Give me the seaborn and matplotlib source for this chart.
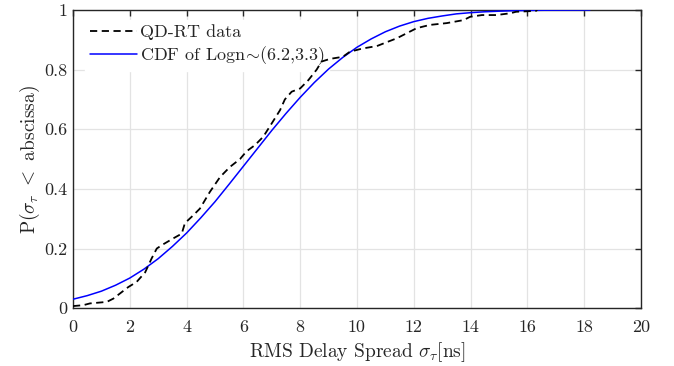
import matplotlib
matplotlib.use("Agg")
import matplotlib.pyplot as plt
import seaborn as sns
import pandas as pd

emp_x = [0.0, 0.36, 0.6, 1.19, 1.42, 1.65, 1.95, 2.24, 2.54, 2.77, 2.95, 3.12,
         3.53, 3.83, 3.94, 4.24, 4.47, 4.82, 5.18, 5.53, 5.88, 6.11, 6.41, 6.70,
         7.0, 7.29, 7.46, 7.7, 8.0, 8.29, 8.58, 8.75, 9.05, 9.5, 9.75, 10.2,
         10.7, 11.1, 11.4, 11.75, 12.1, 12.57, 13.16, 13.75, 13.98, 14.4, 14.9,
         15.4, 15.6, 16.3, 16.35]
emp_y = [0.007, 0.01, 0.016, 0.021, 0.032, 0.049, 0.071, 0.088, 0.12, 0.167,
         0.2, 0.211, 0.234, 0.25, 0.285, 0.312, 0.334, 0.39, 0.44, 0.474, 0.50,
         0.526, 0.547, 0.575, 0.62, 0.664, 0.70, 0.726, 0.737, 0.765, 0.80,
         0.827, 0.836, 0.843, 0.86, 0.871, 0.879, 0.894, 0.905, 0.922, 0.939,
         0.95, 0.956, 0.966, 0.977, 0.983, 0.983, 0.989, 0.994, 0.997, 1.0]

# Fitted CDF curve
fit_x = [0, 0.5, 1, 1.5, 2, 2.5, 3, 3.5, 4, 4.5, 5, 5.5, 6, 6.5, 7, 7.5, 8,
         8.5, 9, 9.5, 10, 10.5, 11, 11.5, 12, 12.5, 13, 13.5, 14, 14.5, 15,
         15.5, 16, 16.5, 17, 17.5, 18, 18.2]
fit_y = [0.030, 0.042, 0.057, 0.077, 0.101, 0.131, 0.166, 0.207, 0.252, 0.303,
         0.357, 0.416, 0.476, 0.536, 0.596, 0.653, 0.707, 0.757, 0.802, 0.841,
         0.875, 0.903, 0.927, 0.946, 0.961, 0.972, 0.980, 0.987, 0.991, 0.994,
         0.996, 0.9976, 0.9985, 0.9991, 0.9995, 0.9997, 0.9999, 1.0]

x_ticks = [0, 2, 4, 6, 8, 10, 12, 14, 16, 18, 20]
y_ticks = [0, 0.2, 0.4, 0.6, 0.8, 1]
y_tick_labels = ["0", "0.2", "0.4", "0.6", "0.8", "1"]

sns.set_style("white")
plt.rcParams["font.family"] = ["cmr10", "DejaVu Serif"]
plt.rcParams["mathtext.fontset"] = "cm"
plt.rcParams["axes.formatter.use_mathtext"] = True
plt.rcParams["axes.unicode_minus"] = False

fig = plt.figure(figsize=(6.74, 3.66), dpi=100)
ax = fig.add_axes([0.1083, 0.158, 0.8427, 0.8147])

emp = pd.DataFrame({"x": emp_x, "y": emp_y})
fit = pd.DataFrame({"x": fit_x, "y": fit_y})

sns.lineplot(data=emp, x="x", y="y", ax=ax, color="black", linestyle=(0, (4, 2.5)),
             linewidth=1.3, label="QD-RT data", zorder=3, sort=False)
sns.lineplot(data=fit, x="x", y="y", ax=ax, color="#0000ff", linewidth=1.1,
             label=r"CDF of Logn$\!\sim\!$(6.2,3.3)", zorder=2.8, sort=False)

ax.set_xlim(0, 20)
ax.set_ylim(0, 1)
ax.set_xticks(x_ticks)
ax.set_xticklabels([str(t) for t in x_ticks])
ax.set_yticks(y_ticks)
ax.set_yticklabels(y_tick_labels)
ax.grid(True, color="#e3e3e3", linewidth=0.9)
ax.set_axisbelow(True)
for s in ax.spines.values():
    s.set_color("#262626")
    s.set_linewidth(1.0)
ax.tick_params(direction="in", length=4, width=1.0, top=True, right=True,
               labelsize=13, colors="#262626")
ax.tick_params(axis="x", pad=8)
ax.tick_params(axis="y", pad=4)
for lbl in ax.get_xticklabels() + ax.get_yticklabels():
    lbl.set_color("#262626")

ax.set_xlabel(r"RMS Delay Spread $\sigma_\tau$[ns]", fontsize=14, color="#262626", labelpad=4)
ax.set_ylabel(r"P($\sigma_\tau$ $<$ abscissa)", fontsize=14, color="#262626", labelpad=2)

leg = ax.legend(loc="upper left", frameon=True, fontsize=13, handlelength=2.6,
                borderpad=0.25, labelspacing=0.2, handletextpad=0.17,
                borderaxespad=0.0, bbox_to_anchor=(0.022, 0.966))
leg.set_zorder(2.5)
leg.get_frame().set_edgecolor("white")
leg.get_frame().set_facecolor("white")
leg.get_frame().set_alpha(1.0)
leg.get_frame().set_boxstyle("square", pad=0)
for t in leg.get_texts():
    t.set_color("#262626")

fig.savefig("out.png", dpi=100)
